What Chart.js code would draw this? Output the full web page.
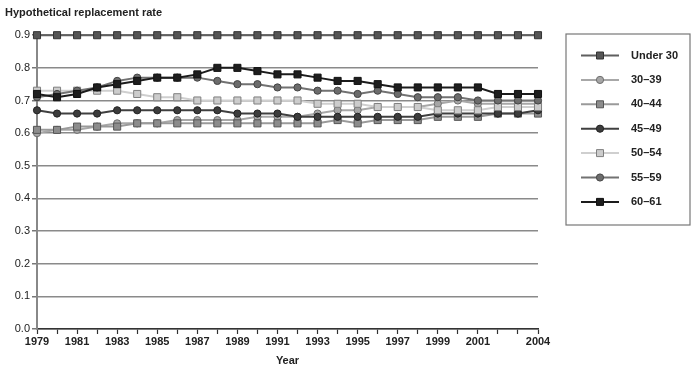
<!DOCTYPE html>
<html>
<head>
<meta charset="utf-8">
<script src="https://cdn.jsdelivr.net/npm/chart.js@4/dist/chart.umd.min.js"></script>
<style>
  html, body { margin: 0; padding: 0; background: #fff; }
  #wrap { width: 700px; height: 370px; position: relative; }
</style>
</head>
<body>
<div id="wrap"><canvas id="c" width="700" height="370"></canvas></div>
<script>
const years = ['1979','1980','1981','1982','1983','1984','1985','1986','1987','1988','1989','1990','1991','1992','1993','1994','1995','1996','1997','1998','1999','2000','2001','2002','2003','2004'];
const seriesNames = ['Under 30','30–39','40–44','45–49','50–54','55–59','60–61'];
const under30 = [0.90,0.90,0.90,0.90,0.90,0.90,0.90,0.90,0.90,0.90,0.90,0.90,0.90,0.90,0.90,0.90,0.90,0.90,0.90,0.90,0.90,0.90,0.90,0.90,0.90,0.90];
const age30_39 = [0.60,0.61,0.61,0.62,0.63,0.63,0.63,0.64,0.64,0.64,0.64,0.65,0.65,0.65,0.66,0.67,0.67,0.68,0.68,0.68,0.69,0.70,0.69,0.69,0.69,0.69];
const age40_44 = [0.61,0.61,0.62,0.62,0.62,0.63,0.63,0.63,0.63,0.63,0.63,0.63,0.63,0.63,0.63,0.64,0.63,0.64,0.64,0.64,0.65,0.65,0.65,0.66,0.66,0.66];
const age45_49 = [0.67,0.66,0.66,0.66,0.67,0.67,0.67,0.67,0.67,0.67,0.66,0.66,0.66,0.65,0.65,0.65,0.65,0.65,0.65,0.65,0.66,0.66,0.66,0.66,0.66,0.67];
const age50_54 = [0.73,0.73,0.73,0.73,0.73,0.72,0.71,0.71,0.70,0.70,0.70,0.70,0.70,0.70,0.69,0.69,0.69,0.68,0.68,0.68,0.67,0.67,0.67,0.68,0.68,0.68];
const age55_59 = [0.71,0.72,0.73,0.74,0.76,0.77,0.77,0.77,0.77,0.76,0.75,0.75,0.74,0.74,0.73,0.73,0.72,0.73,0.72,0.71,0.71,0.71,0.70,0.70,0.70,0.70];
const age60_61 = [0.72,0.71,0.72,0.74,0.75,0.76,0.77,0.77,0.78,0.80,0.80,0.79,0.78,0.78,0.77,0.76,0.76,0.75,0.74,0.74,0.74,0.74,0.74,0.72,0.72,0.72];
const xTickLabels = ['1979','1981','1983','1985','1987','1989','1991','1993','1995','1997','1999','2001','2004'];

const seriesData = [under30, age30_39, age40_44, age45_49, age50_54, age55_59, age60_61];
const styles = [
  {line:'#5f5f5f', fill:'#555555', border:'#333333', shape:'rect', r:5},
  {line:'#a8a8a8', fill:'#a6a6a6', border:'#6e6e6e', shape:'circle', r:3.6},
  {line:'#9a9a9a', fill:'#8c8c8c', border:'#555555', shape:'rect', r:5},
  {line:'#404040', fill:'#3c3c3c', border:'#222222', shape:'circle', r:3.6},
  {line:'#cfcfcf', fill:'#cccccc', border:'#808080', shape:'rect', r:5},
  {line:'#727272', fill:'#6c6c6c', border:'#444444', shape:'circle', r:3.6},
  {line:'#1c1c1c', fill:'#1e1e1e', border:'#111111', shape:'rect', r:5}
];

const datasets = seriesNames.map((n, i) => ({
  label: n,
  data: seriesData[i],
  borderColor: styles[i].line,
  borderWidth: 2,
  backgroundColor: styles[i].fill,
  pointBackgroundColor: styles[i].fill,
  pointBorderColor: styles[i].border,
  pointBorderWidth: 1,
  pointStyle: styles[i].shape,
  pointRadius: styles[i].r,
  pointHoverRadius: styles[i].r,
  tension: 0,
  clip: false,
  order: 6 - i
}));

const legendPlugin = {
  id: 'boxLegend',
  afterDraw(chart) {
    const ctx = chart.ctx;
    ctx.save();
    ctx.strokeStyle = '#777';
    ctx.lineWidth = 1.2;
    ctx.strokeRect(566, 34, 124, 191);
    const y0 = 55.5, dy = 24.4;
    ctx.font = 'bold 11px "Liberation Sans", Arial, sans-serif';
    ctx.textBaseline = 'middle';
    ctx.fillStyle = '#222';
    chart.data.datasets.forEach((ds, i) => {
      const y = y0 + i * dy;
      const st = styles[i];
      ctx.strokeStyle = st.line;
      ctx.lineWidth = 2;
      ctx.beginPath(); ctx.moveTo(581, y); ctx.lineTo(619, y); ctx.stroke();
      ctx.fillStyle = st.fill;
      ctx.strokeStyle = st.border;
      ctx.lineWidth = 1;
      if (st.shape === 'rect') {
        ctx.beginPath(); ctx.rect(596.5, y - 3.5, 7, 7); ctx.fill(); ctx.stroke();
      } else {
        ctx.beginPath(); ctx.arc(600, y, 3.6, 0, Math.PI * 2); ctx.fill(); ctx.stroke();
      }
      ctx.fillStyle = '#222';
      ctx.textAlign = 'left';
      ctx.fillText(ds.label, 631, y);
    });
    ctx.restore();
  }
};

new Chart(document.getElementById('c'), {
  type: 'line',
  data: { labels: years, datasets },
  plugins: [legendPlugin],
  options: {
    responsive: false,
    animation: false,
    events: [],
    layout: { padding: { left: 5, right: 162, top: 0, bottom: 0 } },
    plugins: {
      legend: { display: false },
      tooltip: { enabled: false },
      title: {
        display: true,
        text: 'Hypothetical replacement rate',
        align: 'start',
        color: '#222',
        font: { family: '"Liberation Sans", Arial, sans-serif', size: 11, weight: 'bold' },
        padding: { top: 6, bottom: 16 }
      }
    },
    scales: {
      x: {
        type: 'category',
        offset: false,
        afterFit(s) { s.height = 41; },
        grid: { display: true, drawOnChartArea: false, drawTicks: true, tickLength: 5, tickColor: '#333', tickWidth: 1.2 },
        border: { display: true, color: '#333', width: 1.5 },
        ticks: {
          autoSkip: false, maxRotation: 0, minRotation: 0, padding: 1,
          color: '#222',
          font: { family: '"Liberation Sans Narrow", "Liberation Sans", Arial, sans-serif', size: 11, weight: 'bold' },
          callback(v, i) { const l = years[i]; return xTickLabels.includes(l) ? l : ''; }
        },
        title: {
          display: true, text: 'Year', color: '#222',
          font: { family: '"Liberation Sans Narrow", "Liberation Sans", Arial, sans-serif', size: 11, weight: 'bold' },
          padding: { top: 2, bottom: 2 }
        }
      },
      y: {
        min: 0, max: 0.9,
        afterFit(s) { s.width = 32; },
        grid: { color: '#8a8a8a', lineWidth: 1.5, drawTicks: true, tickLength: 5, tickColor: '#777' },
        border: { display: true, color: '#888', width: 2 },
        ticks: {
          stepSize: 0.1, padding: 2, color: '#222',
          font: { family: '"Liberation Sans", Arial, sans-serif', size: 11 },
          callback(v) { return Number(v).toFixed(1); }
        }
      }
    }
  }
});
</script>
</body>
</html>
